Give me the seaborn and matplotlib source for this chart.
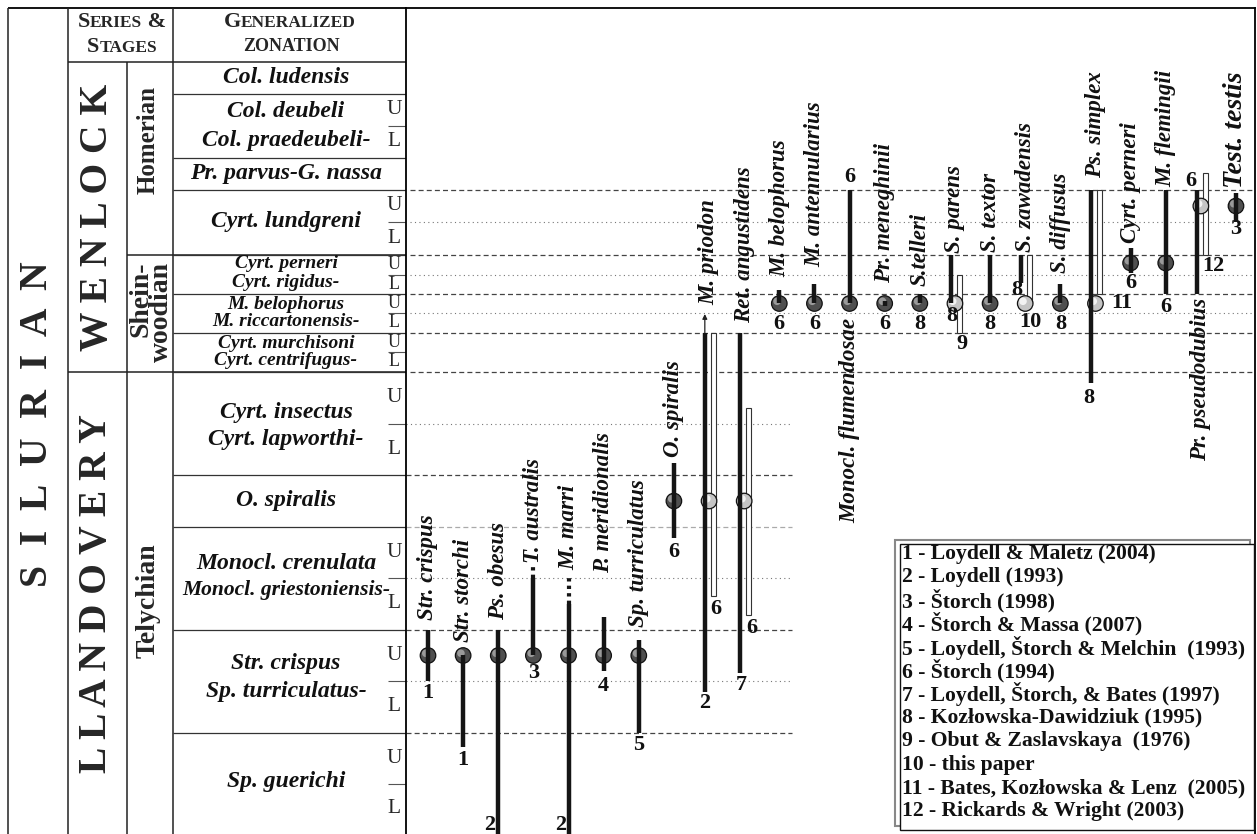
import numpy as np
import pandas as pd
import matplotlib
matplotlib.use("Agg")
import matplotlib.pyplot as plt
from matplotlib.patches import Rectangle
from matplotlib.ticker import NullLocator
from matplotlib.transforms import ScaledTranslation
from matplotlib.offsetbox import TextArea, HPacker, AnnotationBbox
import seaborn as sns

# ---- data ------------------------------------------------------------------
# stratigraphic level: 0 = base of Sp. guerichi, one unit per sub-zone boundary
TAXA = ["Str. crispus", "Str. storchi", "Ps. obesus", "T. australis", "M. marri",
        "P. meridionalis", "Sp. turriculatus", "O. spiralis", "M. priodon",
        "Ret. angustidens", "M. belophorus", "M. antennularius",
        "Monocl. flumendosae", "Pr. meneghinii", "S.telleri", "S. parens",
        "S. textor", "S. zawadensis", "S. diffusus", "Ps. simplex",
        "Cyrt. perneri", "M. flemingii", "Pr. pseudodubius", "Test. testis"]
RANGE_BASE = [3.0, 1.73, 0.0, 3.5, 0.0, 3.2, 2.0, 5.78, 2.79, 3.15, 12.5, 12.5,
              12.5, 12.35, 12.5, 12.5, 12.5, 13.6, 12.5, 8.79, 14.1, 13.0, 13.0, 16.0]
RANGE_TOP = [4.0, 3.5, 4.0, 5.0, 4.5, 4.25, 3.8, 7.24, 11.0, 11.0, 13.2, 13.53,
             17.0, 12.65, 13.0, 15.0, 15.0, 15.0, 13.5, 17.0, 15.2, 17.0, 17.0, 16.9]
MARKER_LEVEL = [3.5] * 7 + [6.5] * 3 + [12.5] * 10 + [14.6, 14.6, 16.5, 16.5]
MARKER_KIND = ["dark"] * 8 + ["light", "light"] + ["dark"] * 5 + ["light", "dark",
               "light", "dark", "light", "dark", "dark", "light", "dark"]
NAME_LEVEL = [4.19, 3.76, 4.19, 5.29, 5.16, 5.1, 4.06, 7.35, 12.4, 11.5, 13.9, 14.4,
              11.75, 13.6, 13.4, 15.06, 15.1, 15.1, 14.1, 17.375, 15.36, 17.1, 12.79, 17.06]
NAME_BELOW = ["Monocl. flumendosae", "Pr. pseudodubius"]

OPEN_TAXA = ["M. priodon", "Ret. angustidens", "S. parens", "S. zawadensis",
             "Ps. simplex", "Pr. pseudodubius"]
OPEN_BASE = [4.65, 4.29, 11.0, 12.5, 13.0, 15.0]
OPEN_TOP = [11.0, 8.31, 14.0, 15.0, 17.0, 17.53]

DOTTED_TAXA = ["T. australis", "M. marri"]
DOTTED_BASE = [5.0, 4.5]
DOTTED_TOP = [5.25, 5.0]

ARROW_TAXA = ["M. priodon"]
ARROW_TOP = [11.95]

REF_TAXON = [0, 1, 2, 3, 4, 5, 6, 7, 8, 8, 9, 9, 10, 11, 12, 13, 14, 15, 15, 16,
             17, 17, 18, 19, 19, 20, 21, 22, 22, 23]
REF_LEVEL = [2.76, 1.47, 0.18, 3.16, 0.18, 2.9, 1.76, 5.5, 2.58, 4.4, 2.92, 4.04,
             11.45, 11.45, 17.4, 11.45, 11.45, 11.85, 10.4, 11.45, 13.2, 11.55,
             11.45, 8.5, 12.5, 13.6, 12.3, 17.28, 14.45, 15.8]
REF_TEXT = ["1", "1", "2", "3", "2", "4", "5", "6", "2", "6", "7", "6", "6", "6",
            "6", "6", "8", "8", "9", "8", "8", "10", "8", "8", "11", "6", "6", "6",
            "12", "3"]

ZONE_NAMES = ["Col. ludensis", "Col. deubeli", "Col. praedeubeli-",
              "Pr. parvus-G. nassa", "Cyrt. lundgreni", "Cyrt. perneri",
              "Cyrt. rigidus-", "M. belophorus", "M. riccartonensis-",
              "Cyrt. murchisoni", "Cyrt. centrifugus-", "Cyrt. insectus",
              "Cyrt. lapworthi-", "O. spiralis", "Monocl. crenulata",
              "Monocl. griestoniensis-", "Str. crispus", "Sp. turriculatus-",
              "Sp. guerichi"]
ZONE_LEVEL = [20.5, 19.44, 18.56, 17.5, 16.0, 14.55, 13.58, 12.47, 11.55, 10.47,
              9.55, 8.23, 7.69, 6.5, 5.29, 4.77, 3.35, 2.79, 1.04]
ZONE_BOUNDS = [20, 18, 17, 15, 13, 11, 9, 7, 6, 4, 2]
UL_SPLITS = [19, 16, 14, 12, 10, 8, 5, 3, 1]

SERIES = ["W E N L O C K", "L L A N D O V E R Y"]
SERIES_LEVEL = [16.15, 4.7]

REFERENCES = ["1 - Loydell & Maletz (2004)", "2 - Loydell (1993)", "3 - Štorch (1998)",
              "4 - Štorch & Massa (2007)", "5 - Loydell, Štorch & Melchin  (1993)",
              "6 - Štorch (1994)", "7 - Loydell, Štorch, & Bates (1997)",
              "8 - Kozłowska-Dawidziuk (1995)", "9 - Obut & Zaslavskaya  (1976)",
              "10 - this paper", "11 - Bates, Kozłowska & Lenz  (2005)",
              "12 - Rickards & Wright (2003)"]

# ---- layout ----------------------------------------------------------------
W, H = 1257, 834
TOP_PX, SPLIT_PX, RIGHT_PX = 8, 406, 1255
# pixel row of every level boundary (the vertical scale of the chart)
LEVEL_PX = [834, 784, 733, 681, 630, 578, 527, 475, 424, 372, 352, 333, 313, 294,
            275, 255, 222, 190, 158, 126, 94, 62, 8]
STEP = 35.13                 # pixels between taxon columns
X0 = -22 / STEP
PAIR = 0.12                  # offset of black / open bar in paired columns
REF_SHIFT = {2: -0.23, 4: -0.23, 8: -0.12, 9: 0.19, 10: -0.08, 11: 0.23,
             17: -0.1, 18: 0.2, 20: -0.25, 21: 0.15, 23: -0.18, 24: 0.75,
             27: -0.28, 28: 0.35}

sns.set_theme(style="white")
SERIF = ["Liberation Serif", "DejaVu Serif"]
plt.rcParams["font.family"] = SERIF

lv = np.arange(len(LEVEL_PX), dtype=float)
lpx = np.asarray(LEVEL_PX, dtype=float)


def to_px(v):
    return -np.interp(v, lv, lpx)


def from_px(p):
    return np.interp(-np.asarray(p), -lpx, lv)


fig = plt.figure(figsize=(W / 100, H / 100), dpi=100)
ax_t = fig.add_axes([0, 0, SPLIT_PX / W, (H - TOP_PX) / H])
ax_c = fig.add_axes([SPLIT_PX / W, 0, (RIGHT_PX - SPLIT_PX) / W, (H - TOP_PX) / H])

pos = {t: i for i, t in enumerate(TAXA)}
paired = [pos[t] for t in OPEN_TAXA]

# ---- range chart -----------------------------------------------------------
# markers first: seaborn must see a plain linear axis
marks = pd.DataFrame({"x": np.arange(len(TAXA)), "level": MARKER_LEVEL,
                      "kind": MARKER_KIND})
sns.scatterplot(data=marks, x="x", y="level", hue="kind",
                palette={"dark": "#4f4f4f", "light": "#c4c4c4"}, s=125,
                edgecolor="#111111", linewidth=0.9, legend=False, zorder=3, ax=ax_c)
shine = ax_c.transData + ScaledTranslation(-1.6 / 72, 1.6 / 72, fig.dpi_scale_trans)
ax_c.scatter(marks["x"], marks["level"], s=30, linewidths=0, zorder=3.2,
             c=["#9a9a9a" if k == "dark" else "#f2f2f2" for k in MARKER_KIND],
             transform=shine)
ax_c.set_yscale("function", functions=(to_px, from_px))
ax_t.set_yscale("function", functions=(to_px, from_px))

full = dict(xmin=4 / (RIGHT_PX - SPLIT_PX), xmax=1)
part = dict(xmin=0, xmax=(792 - SPLIT_PX) / (RIGHT_PX - SPLIT_PX))
for lev in [17, 15, 13, 11, 9]:
    ax_c.axhline(lev, color="#444444", lw=0.9, ls=(0, (4, 2.5)), **full)
for lev in [7, 4, 2]:
    ax_c.axhline(lev, color="#444444", lw=0.9, ls=(0, (4, 2.5)), **part)
ax_c.axhline(6, color="#aaaaaa", lw=0.9, ls=(0, (4, 2.5)), **part)
for lev in [16, 14, 12]:
    ax_c.axhline(lev, color="#777777", lw=0.8, ls=(0, (1, 3)), **full)
for lev in [8, 5, 3]:
    ax_c.axhline(lev, color="#777777", lw=0.8, ls=(0, (1, 3)), **part)

x_line = [i - PAIR if i in paired else i for i in range(len(TAXA))]
ax_c.vlines(x_line, RANGE_BASE, RANGE_TOP, color="#151515", lw=3.2, zorder=4)

x_open = [pos[t] + PAIR for t in OPEN_TAXA]
ax_c.bar(x_open, np.subtract(OPEN_TOP, OPEN_BASE), bottom=OPEN_BASE, width=0.14,
         color="white", edgecolor="#333333", linewidth=0.8, zorder=2)

for t, b, tp in zip(DOTTED_TAXA, DOTTED_BASE, DOTTED_TOP):
    ax_c.plot([pos[t], pos[t]], [b, tp], color="#151515", lw=3,
              ls=(0, (0.8, 1.0)), zorder=4)

for t, tp in zip(ARROW_TAXA, ARROW_TOP):
    xa = pos[t] - PAIR
    ax_c.annotate("", xy=(xa, tp), xytext=(xa, RANGE_TOP[pos[t]]),
                  arrowprops=dict(arrowstyle="-|>", color="#222222", lw=0.9,
                                  mutation_scale=7, shrinkA=0, shrinkB=0))

for i, (name, lev) in enumerate(zip(TAXA, NAME_LEVEL)):
    below = name in NAME_BELOW
    ax_c.text(i, lev, name, rotation=90, ha="center",
              va="top" if below else "bottom",
              fontsize=20 if name == "Test. testis" else 16.5,
              style="italic", weight="bold", color="#111111")

for k, (ti, lev, txt) in enumerate(zip(REF_TAXON, REF_LEVEL, REF_TEXT)):
    ax_c.text(ti + REF_SHIFT.get(k, 0), lev, txt, ha="center", va="center",
              fontsize=16, weight="bold", color="#111111")

ax_c.set_xlim(X0, X0 + (RIGHT_PX - SPLIT_PX) / STEP)
ax_c.set_ylim(0, lv[-1])
ax_c.set_xticks([])
ax_c.set_yticks([])
ax_c.yaxis.set_minor_locator(NullLocator())
ax_c.set_xlabel("")
ax_c.set_ylabel("")
for side, sp in ax_c.spines.items():
    sp.set_visible(side != "bottom")
    sp.set_color("black")
    sp.set_linewidth(1.3)

# ---- stratigraphic table ---------------------------------------------------
ax_t.set_xlim(0, SPLIT_PX)
ax_t.set_ylim(0, lv[-1])
ax_t.axis("off")
kw = dict(color="#222222", lw=1.1, clip_on=False)
ax_t.hlines(lv[-1], 8, SPLIT_PX, color="black", lw=1.3, clip_on=False)
ax_t.vlines([8, 68, 173], 0, lv[-1], **kw)
ax_t.vlines(127, 0, 21, **kw)
ax_t.hlines(21, 68, SPLIT_PX, **kw)
ax_t.hlines(9, 68, SPLIT_PX, **kw)
ax_t.hlines(15, 127, SPLIT_PX, **kw)
ax_t.hlines(ZONE_BOUNDS, 173, SPLIT_PX, color="#333333", lw=0.9)
ax_t.hlines(UL_SPLITS, 388, SPLIT_PX, color="#555555", lw=0.8)

small = {"Cyrt. perneri", "Cyrt. rigidus-", "M. belophorus", "M. riccartonensis-",
         "Cyrt. murchisoni", "Cyrt. centrifugus-"}
for name, lev in zip(ZONE_NAMES, ZONE_LEVEL):
    fs = 14 if name in small else (15.5 if "griest" in name else 17)
    ax_t.text(286, lev, name, ha="center", va="center", fontsize=fs,
              style="italic", weight="bold", color="#111111")
for s in UL_SPLITS:
    fs = 13 if s in (14, 12, 10) else 15.5
    ax_t.text(394, s + 0.5, "U", ha="center", va="center", fontsize=fs)
    ax_t.text(394, s - 0.5, "L", ha="center", va="center", fontsize=fs)

ax_t.text(38, 8.0, "S  I  L  U  R  I  A  N", rotation=90, ha="center",
          va="center", fontsize=28.5, weight="bold")
for lab, lev in zip(SERIES, SERIES_LEVEL):
    ax_t.text(97, lev, lab, rotation=90, ha="center", va="center",
              fontsize=28.5, weight="bold")
ax_t.text(148, 18.56, "Homerian", rotation=90, ha="center", va="center",
          fontsize=18, weight="bold")
ax_t.text(151, 14.65, "Shein-\nwoodian", rotation=90, ha="center", va="top",
          multialignment="right", linespacing=0.78, fontsize=20, weight="bold")
ax_t.text(148, 4.57, "Telychian", rotation=90, ha="center", va="center",
          fontsize=20, weight="bold")


def small_caps(x, lev, parts):
    boxes = [TextArea(t, textprops=dict(fontsize=s, fontweight="bold",
                                        family=SERIF)) for t, s in parts]
    pack = HPacker(children=boxes, align="baseline", pad=0, sep=0)
    ax_t.add_artist(AnnotationBbox(pack, (x, lev), frameon=False,
                                   box_alignment=(0.5, 0.5)))


small_caps(122, 21.74, [("S", 16), ("ERIES", 12.5), (" &", 16)])
small_caps(122, 21.28, [("S", 16), ("TAGES", 12.5)])
small_caps(290, 21.74, [("G", 16), ("ENERALIZED", 12.5)])
small_caps(291, 21.28, [("ZONATION", 13)])

# ---- reference key ---------------------------------------------------------
def fx(x):
    return x / W


def fy(y):
    return 1 - y / H


fig.add_artist(Rectangle((fx(895), fy(826)), (1250 - 895) / W, (826 - 540) / H,
                         transform=fig.transFigure, facecolor="white",
                         edgecolor="#888888", lw=1.5, zorder=5))
fig.add_artist(Rectangle((fx(900), fy(830)), (1254 - 900) / W, (830 - 544) / H,
                         transform=fig.transFigure, facecolor="white",
                         edgecolor="#111111", lw=1.0, zorder=6))
for k, ref in enumerate(REFERENCES):
    fig.text(fx(902), fy(554 + 23.4 * k), ref, ha="left", va="center",
             fontsize=15.6, weight="bold", color="#111111", zorder=7)

fig.savefig("out.png", dpi=100)
